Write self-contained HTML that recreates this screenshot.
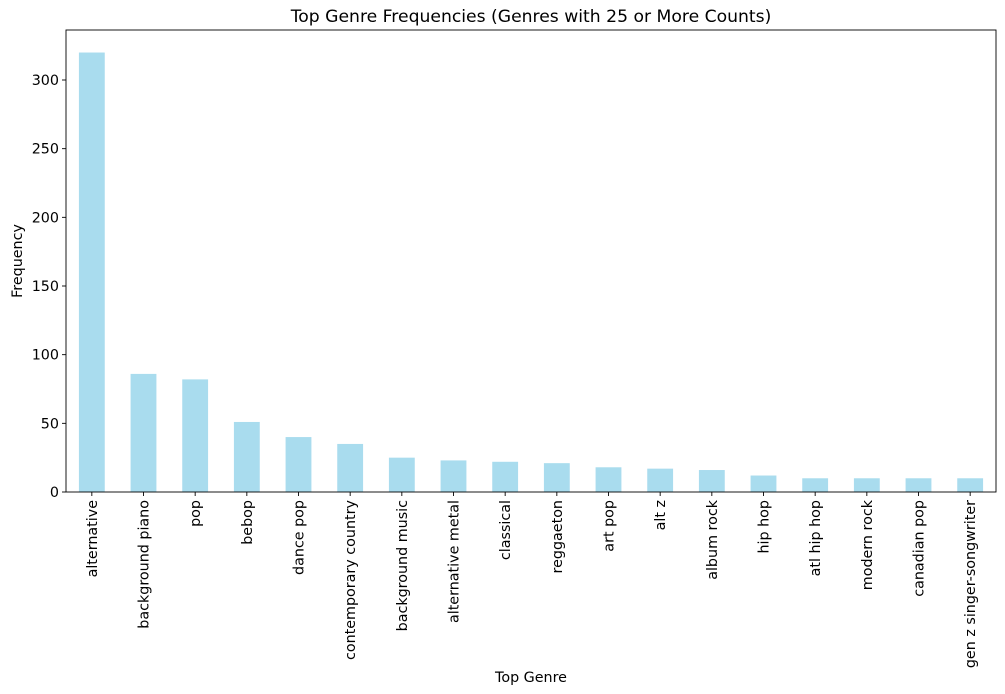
<!DOCTYPE html>
<html><head><meta charset="utf-8"><style>
html,body{margin:0;padding:0;background:#fff;}
svg{display:block;font-family:"DejaVu Sans","Liberation Sans",sans-serif;}
</style></head><body>
<svg id="chart" width="1005" height="694">
<text x="531" y="22" text-anchor="middle" font-size="17.2">Top Genre Frequencies (Genres with 25 or More Counts)</text>
<g id="bars"></g>
<g id="yaxis"></g>
<g id="xaxis"></g>
<rect x="66" y="30" width="930" height="462" fill="none" stroke="#000" stroke-width="0.9"/>
<text x="531" y="682" text-anchor="middle" font-size="14.3">Top Genre</text>
<text transform="translate(22,261) rotate(-90)" text-anchor="middle" font-size="14.3">Frequency</text>
</svg>
<script>
const categories = ["alternative","background piano","pop","bebop","dance pop","contemporary country","background music","alternative metal","classical","reggaeton","art pop","alt z","album rock","hip hop","atl hip hop","modern rock","canadian pop","gen z singer-songwriter"];
const counts = [320,86,82,51,40,35,25,23,22,21,18,17,16,12,10,10,10,10];
const yTicks = [0,50,100,150,200,250,300];
const NS="http://www.w3.org/2000/svg";
const L=66,R=996,T=30,B=492;
const yScale=v=>B-v*(412/300);
const step=(R-L)/categories.length;
const xCenter=i=>L+step*(i+0.5);
const bw=step*0.5;
const bars=document.getElementById('bars'),xa=document.getElementById('xaxis'),ya=document.getElementById('yaxis');
function mk(t,a,p){const e=document.createElementNS(NS,t);for(const k in a)e.setAttribute(k,a[k]);p.appendChild(e);return e;}
categories.forEach((c,i)=>{
  const r=mk('rect',{x:xCenter(i)-bw/2,y:yScale(counts[i]),width:bw,height:B-yScale(counts[i]),fill:'#a9dcee'},bars);
  
  
  const tk=mk('line',{x1:xCenter(i),x2:xCenter(i),y1:B,y2:B+4,stroke:'#000','stroke-width':0.9},xa);
  
  
  const tx=mk('text',{transform:`translate(${xCenter(i)+5},${B+8}) rotate(-90)`,'text-anchor':'end','font-size':14.3},xa);
  tx.textContent=c;
  
  
});
yTicks.forEach(v=>{
  const tk=mk('line',{x1:L-4,x2:L,y1:yScale(v),y2:yScale(v),stroke:'#000','stroke-width':0.9},ya);
  
  
  const tx=mk('text',{x:L-7,y:yScale(v)+5,'text-anchor':'end','font-size':14.3},ya);
  tx.textContent=v;
  
  
});
</script>
</body></html>
